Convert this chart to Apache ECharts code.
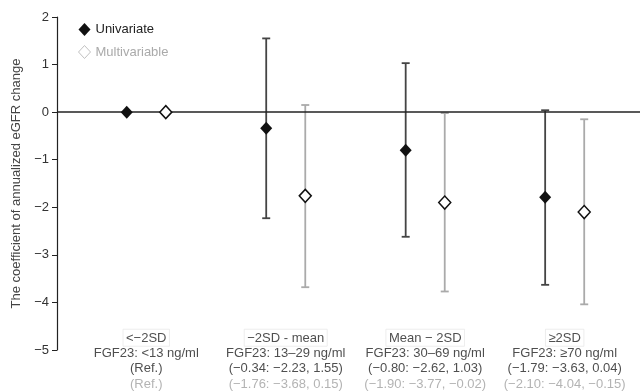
<!DOCTYPE html>
<html>
<head>
<meta charset="utf-8">
<script src="https://cdn.jsdelivr.net/npm/echarts@6/dist/echarts.min.js"></script>
<style>
  html, body { margin: 0; padding: 0; background: #fff; }
  #chart { width: 642px; height: 392px; }
</style>
</head>
<body>
<div id="chart"></div>
<script>
// groups (FGF23 categories)
var groupNames = ['<\u22122SD', '\u22122SD - mean', 'Mean \u2212 2SD', '\u22652SD'];
var fgfRanges = ['FGF23: <13 ng/ml', 'FGF23: 13\u201329 ng/ml', 'FGF23: 30\u201369 ng/ml', 'FGF23: \u226570 ng/ml'];

// univariate coefficient + 95% CI
var uniCoef = [0, -0.34, -0.80, -1.79];
var uniLow = [null, -2.23, -2.62, -3.63];
var uniHigh = [null, 1.55, 1.03, 0.04];

// multivariable coefficient + 95% CI
var multiCoef = [0, -1.76, -1.90, -2.10];
var multiLow = [null, -3.68, -3.77, -4.04];
var multiHigh = [null, 0.15, -0.02, -0.15];

var SHIFT = 0.14;
var FONT = 'Liberation Sans, Arial, sans-serif';

function fmt(v) {
  return v < 0 ? '\u2212' + Math.abs(v).toFixed(2) : v.toFixed(2);
}
function ciText(c, lo, hi) {
  if (lo == null) return '(Ref.)';
  return '(' + fmt(c) + ': ' + fmt(lo) + ', ' + fmt(hi) + ')';
}

function pts(coef, dx) {
  return coef.map(function (v, i) { return [i + 1 + dx, v]; });
}
function bars(lo, hi, dx) {
  var out = [];
  lo.forEach(function (v, i) {
    if (v != null) out.push([i + 1 + dx, v, hi[i]]);
  });
  return out;
}

function errorBar(color) {
  return function (params, api) {
    var x = api.value(0);
    var top = api.coord([x, api.value(2)]);
    var bot = api.coord([x, api.value(1)]);
    var half = 4;
    var st = { stroke: color, lineWidth: 1.8 };
    return {
      type: 'group',
      children: [
        { type: 'line', shape: { x1: top[0], y1: top[1], x2: bot[0], y2: bot[1] }, style: st },
        { type: 'line', shape: { x1: top[0] - half, y1: top[1], x2: top[0] + half, y2: top[1] }, style: st },
        { type: 'line', shape: { x1: bot[0] - half, y1: bot[1], x2: bot[0] + half, y2: bot[1] }, style: st }
      ]
    };
  };
}

var chart = echarts.init(document.getElementById('chart'));

var option = {
  animation: false,
  textStyle: { fontFamily: FONT },
  grid: { left: 57, right: 2, top: 17, bottom: 42 },
  legend: {
    orient: 'vertical',
    left: 73,
    top: 18,
    itemWidth: 12,
    itemHeight: 13,
    itemGap: 9,
    textStyle: { fontSize: 13, fontFamily: FONT },
    data: [
      { name: 'Univariate', textStyle: { color: '#222' } },
      { name: 'Multivariable', itemStyle: { borderColor: '#c0c0c0', color: '#fff', borderWidth: 1 }, textStyle: { color: '#aaa' } }
    ]
  },
  xAxis: {
    type: 'value',
    min: 0.36,
    max: 4.54,
    show: false
  },
  yAxis: {
    type: 'value',
    min: -5,
    max: 2,
    interval: 1,
    name: 'The coefficient of annualized eGFR change',
    nameLocation: 'middle',
    nameGap: 30,
    nameTextStyle: { fontSize: 13, color: '#444', fontFamily: FONT },
    axisLine: { show: true, lineStyle: { color: '#222', width: 1.2 } },
    axisTick: { show: true, length: 5, lineStyle: { color: '#222' } },
    axisLabel: {
      fontSize: 13, color: '#333', margin: 8, fontFamily: FONT,
      formatter: function (v) { return v < 0 ? '\u2212' + Math.abs(v) : String(v); }
    },
    splitLine: { show: false }
  },
  series: [
    {
      name: 'zero',
      type: 'line',
      data: [],
      silent: true,
      markLine: {
        silent: true,
        symbol: 'none',
        label: { show: false },
        lineStyle: { color: '#222', width: 1.5, type: 'solid' },
        data: [{ yAxis: 0 }]
      }
    },
    {
      name: 'uniCI',
      type: 'custom',
      renderItem: errorBar('#444'),
      data: bars(uniLow, uniHigh, -SHIFT),
      z: 3
    },
    {
      name: 'multiCI',
      type: 'custom',
      renderItem: errorBar('#aaa'),
      data: bars(multiLow, multiHigh, SHIFT),
      z: 3
    },
    {
      name: 'Univariate',
      type: 'scatter',
      symbol: 'diamond',
      symbolSize: [12, 13],
      itemStyle: { color: '#111', opacity: 1 },
      data: pts(uniCoef, -SHIFT),
      z: 5
    },
    {
      name: 'Multivariable',
      type: 'scatter',
      symbol: 'diamond',
      symbolSize: [12, 13],
      itemStyle: { color: '#fff', borderColor: '#111', borderWidth: 1.5, opacity: 1 },
      data: pts(multiCoef, SHIFT),
      z: 5
    },
    {
      name: 'groupLabels',
      type: 'scatter',
      symbolSize: 0,
      silent: true,
      data: groupNames.map(function (n, i) { return [i + 1, -5]; }),
      label: {
        show: true,
        position: [0, 0],
        offset: [0, -20],
        align: 'center',
        verticalAlign: 'top',
        fontFamily: FONT,
        fontSize: 13,
        lineHeight: 15.5,
        color: '#222',
        formatter: function (p) {
          var i = p.dataIndex;
          return '{hd|' + groupNames[i] + '}\n' +
            fgfRanges[i] + '\n' +
            ciText(uniCoef[i], uniLow[i], uniHigh[i]) + '\n' +
            '{mv|' + ciText(multiCoef[i], multiLow[i], multiHigh[i]) + '}';
        },
        rich: {
          hd: { fontSize: 13, color: '#222', borderColor: '#e8e8e8', borderWidth: 1, padding: [3, 3, 1, 3], lineHeight: 15.5, fontFamily: FONT },
          mv: { fontSize: 13, color: '#a0a0a0', lineHeight: 15.5, fontFamily: FONT }
        }
      },
      z: 6
    }
  ]
};

chart.setOption(option);
</script>
</body>
</html>
